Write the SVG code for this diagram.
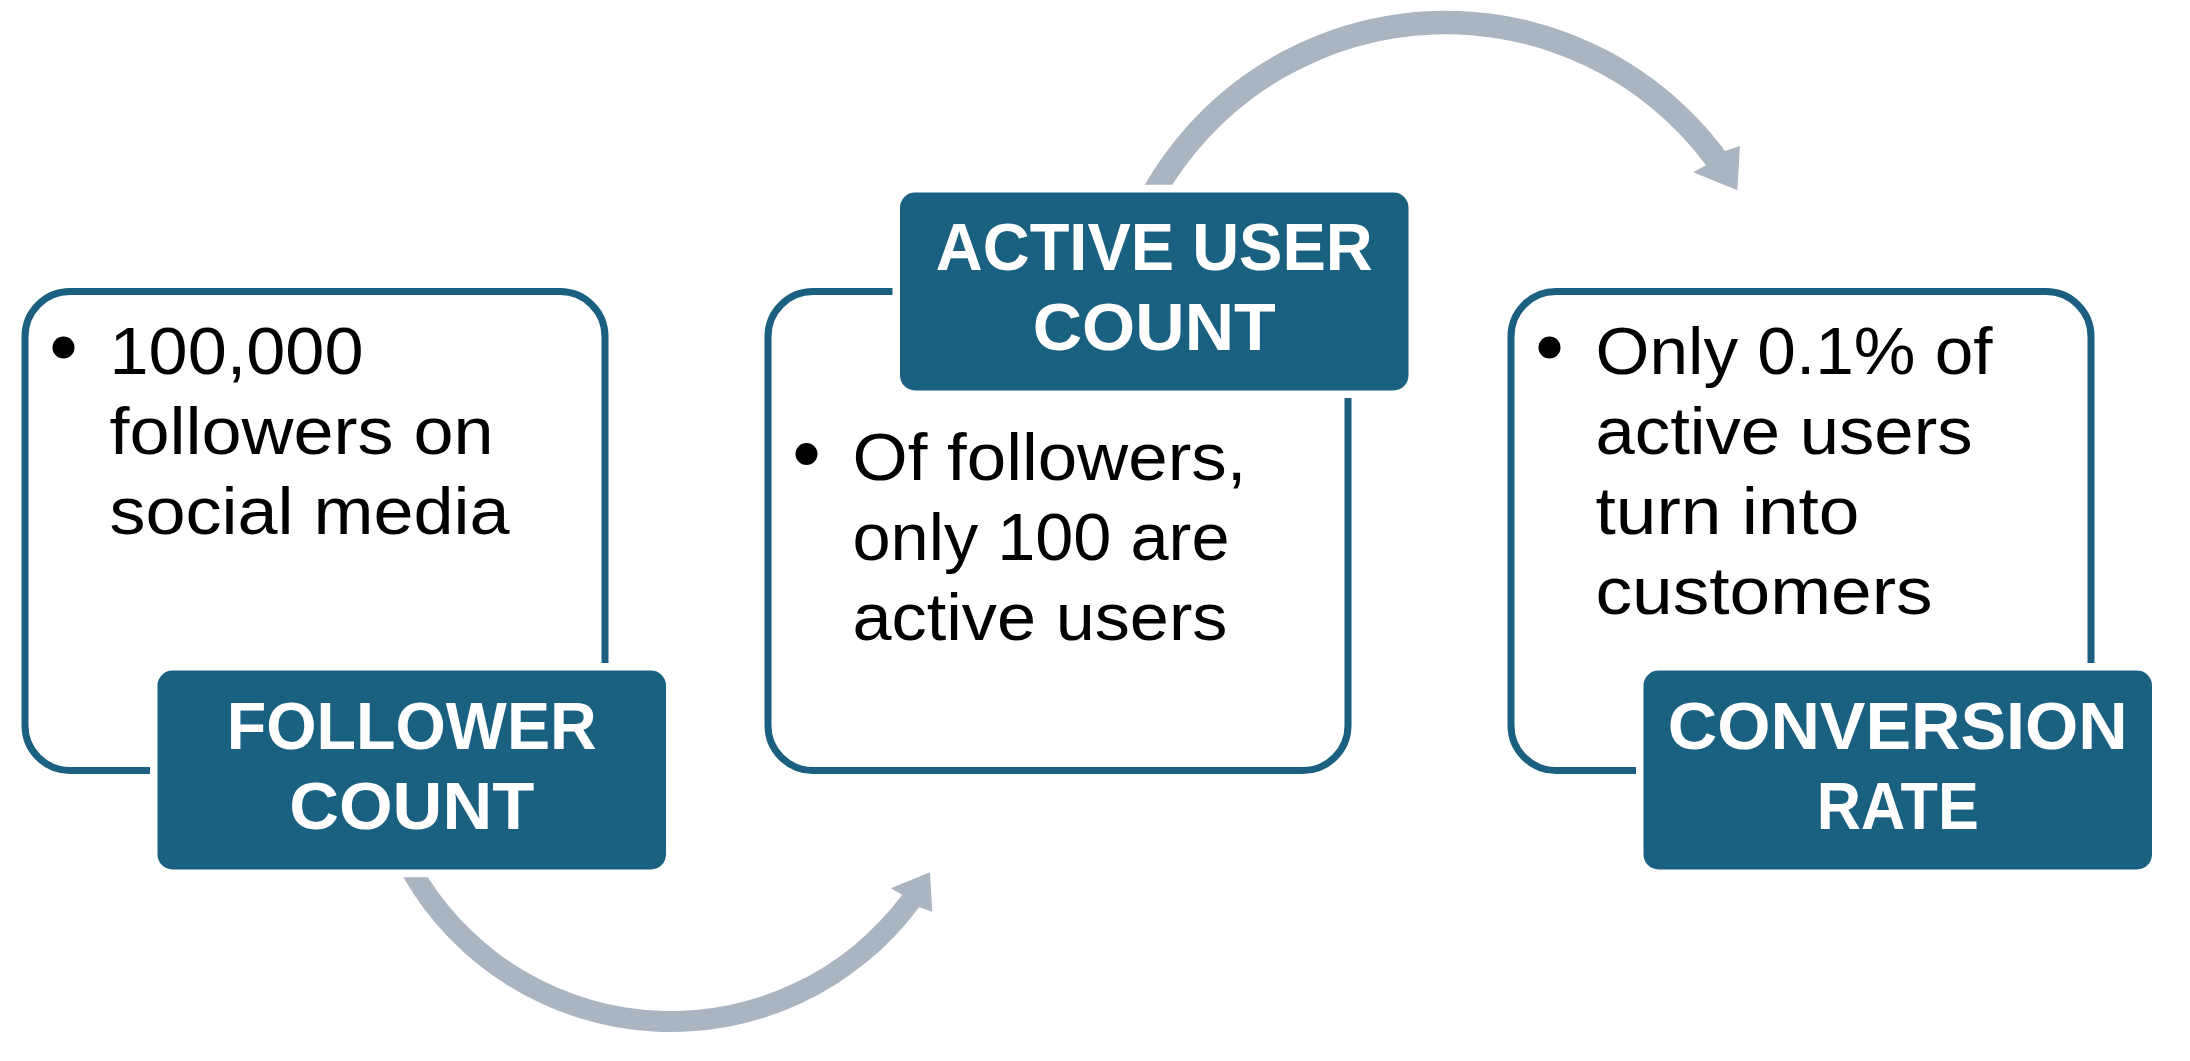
<svg xmlns="http://www.w3.org/2000/svg" width="2190" height="1061" viewBox="0 0 2190 1061">
  <style>
    .box { fill: #FFFFFF; stroke: #1B6080; stroke-width: 7; }
    .label { fill: #1A6080; stroke: #FFFFFF; stroke-width: 15; paint-order: stroke; }
    .lt { font-family: "Liberation Sans", Arial, sans-serif; font-weight: bold; font-size: 66px; fill: #FFFFFF; text-anchor: middle; }
    .bt { font-family: "Liberation Sans", Arial, sans-serif; font-size: 66px; fill: #000000; }
    .bullet { fill: #000000; }
    .arrow { fill: #AAB5C1; }
  </style>
  <rect width="2190" height="1061" fill="#FFFFFF"/>

  <g id="connectors">
    <path id="arrow-follower-to-active" class="arrow" d="M 403.3 877.3 A 309 309 0 0 0 919.1 907.2 L 932.3 911.7 L 930 872.3 L 890.7 888.3 L 902.2 894.7 A 288 288 0 0 1 427.8 877.3 Z"/>
    <path id="arrow-active-to-conversion" class="arrow" transform="matrix(1.125 0 0 -1.125 691.1 1171.7)" d="M 403.3 877.3 A 309 309 0 0 0 919.1 907.2 L 932.3 911.7 L 930 872.3 L 890.7 888.3 L 902.2 894.7 A 288 288 0 0 1 427.8 877.3 Z"/>
  </g>

  <g id="node-follower-count">
    <rect class="box" x="25" y="291.5" width="580" height="479" rx="45" ry="45"/>
    <circle class="bullet" cx="63.5" cy="347.5" r="11"/>
    <text class="bt" x="109.5" y="373.5" textLength="254" lengthAdjust="spacingAndGlyphs">100,000</text>
    <text class="bt" x="109.5" y="453.5" textLength="384" lengthAdjust="spacingAndGlyphs">followers on</text>
    <text class="bt" x="109.5" y="533.5" textLength="400" lengthAdjust="spacingAndGlyphs">social media</text>
    <rect class="label" x="157.5" y="670.5" width="508.5" height="199" rx="15" ry="15"/>
    <text class="lt" x="411.75" y="749" textLength="370" lengthAdjust="spacingAndGlyphs">FOLLOWER</text>
    <text class="lt" x="411.75" y="829" textLength="245" lengthAdjust="spacingAndGlyphs">COUNT</text>
  </g>

  <g id="node-active-user-count">
    <rect class="box" x="768" y="291.5" width="580" height="479" rx="45" ry="45"/>
    <circle class="bullet" cx="806.5" cy="454" r="11"/>
    <text class="bt" x="852.5" y="480" textLength="394" lengthAdjust="spacingAndGlyphs">Of followers,</text>
    <text class="bt" x="852.5" y="560" textLength="377" lengthAdjust="spacingAndGlyphs">only 100 are</text>
    <text class="bt" x="852.5" y="640" textLength="375" lengthAdjust="spacingAndGlyphs">active users</text>
    <rect class="label" x="900" y="192.5" width="508.5" height="198" rx="15" ry="15"/>
    <text class="lt" x="1154.25" y="270" textLength="437" lengthAdjust="spacingAndGlyphs">ACTIVE USER</text>
    <text class="lt" x="1154.25" y="350" textLength="243" lengthAdjust="spacingAndGlyphs">COUNT</text>
  </g>

  <g id="node-conversion-rate">
    <rect class="box" x="1511" y="291.5" width="580" height="479" rx="45" ry="45"/>
    <circle class="bullet" cx="1549.5" cy="347.5" r="11"/>
    <text class="bt" x="1595.5" y="373.5" textLength="397" lengthAdjust="spacingAndGlyphs">Only 0.1% of</text>
    <text class="bt" x="1595.5" y="453.5" textLength="377" lengthAdjust="spacingAndGlyphs">active users</text>
    <text class="bt" x="1595.5" y="533.5" textLength="264" lengthAdjust="spacingAndGlyphs">turn into</text>
    <text class="bt" x="1595.5" y="613.5" textLength="337" lengthAdjust="spacingAndGlyphs">customers</text>
    <rect class="label" x="1643.5" y="670.5" width="508.5" height="199" rx="15" ry="15"/>
    <text class="lt" x="1897.75" y="749" textLength="460" lengthAdjust="spacingAndGlyphs">CONVERSION</text>
    <text class="lt" x="1897.75" y="829" textLength="162" lengthAdjust="spacingAndGlyphs">RATE</text>
  </g>
</svg>
